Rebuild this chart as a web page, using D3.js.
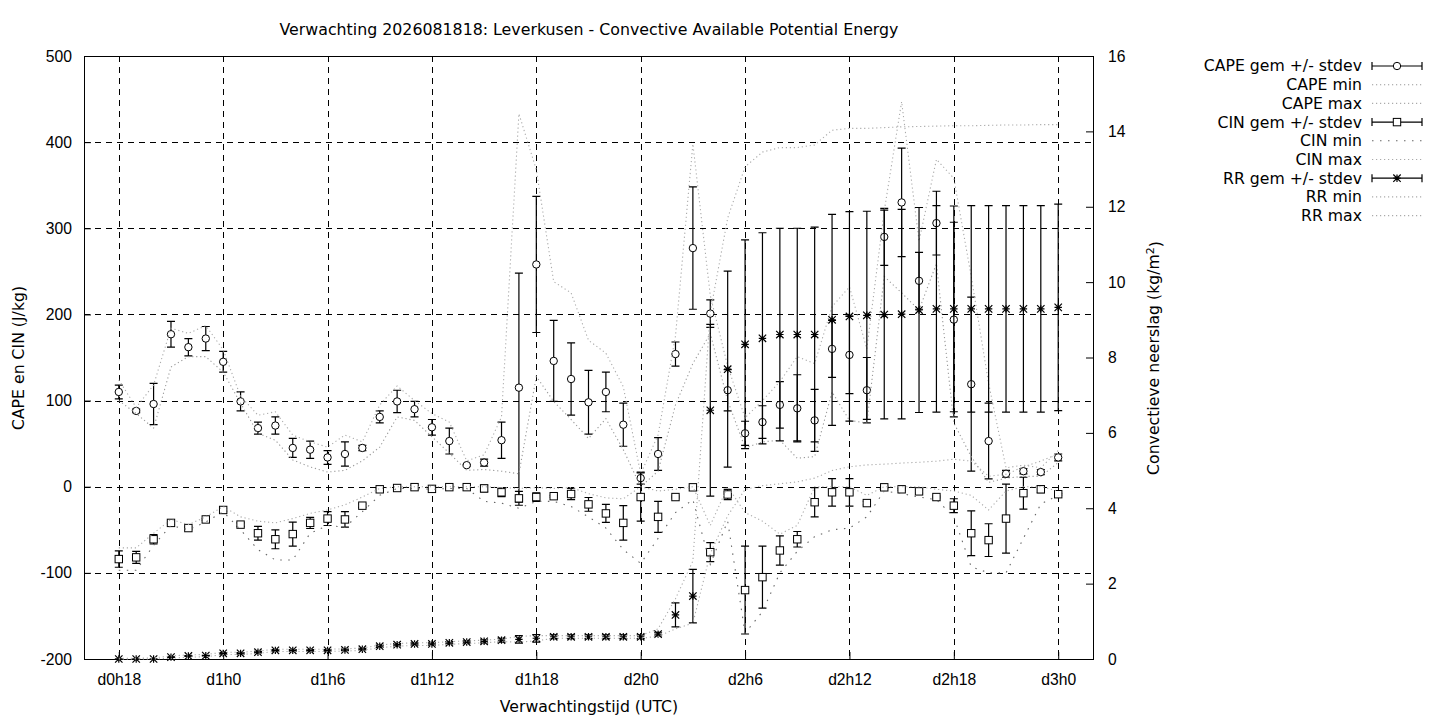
<!DOCTYPE html>
<html>
<head>
<meta charset="utf-8">
<script src="https://cdn.jsdelivr.net/npm/d3@7"></script>
<style>
  body { margin: 0; background: #fff; }
  svg { display: block; font-family: "DejaVu Sans", sans-serif; }
  .tick text { font-size: 15.7px; fill: #000; }
</style>
</head>
<body>
<svg id="chart" width="1440" height="720"></svg>
<script>
// forecast hours (d0h18 .. d3h0)
const hours = [18, 19, 20, 21, 22, 23, 24, 25, 26, 27, 28, 29, 30, 31, 32, 33, 34, 35, 36,
    37, 38, 39, 40, 41, 42, 43, 44, 45, 46, 47, 48, 49, 50, 51, 52, 53, 54, 55, 56,
    57, 58, 59, 60, 61, 62, 63, 64, 65, 66, 67, 68, 69, 70, 71, 72];

const xTickHours  = [18, 24, 30, 36, 42, 48, 54, 60, 66, 72];
const xTickLabels = ["d0h18", "d1h0", "d1h6", "d1h12", "d1h18", "d2h0", "d2h6", "d2h12", "d2h18", "d3h0"];
const yTicks      = [-200, -100, 0, 100, 200, 300, 400, 500];
const y2Ticks     = [0, 2, 4, 6, 8, 10, 12, 14, 16];

// CAPE (J/kg)
const capeMean = [110, 88, 96, 177, 162, 172, 145, 99, 68, 71, 45, 43, 34, 38, 45, 81, 99, 90, 69,
    53, 25, 28, 54, 115, 258, 146, 125, 98, 110, 72, 10, 38, 154, 277, 201, 112, 62, 75, 95,
    91, 77, 160, 153, 112, 290, 330, 239, 306, 194, 119, 53, 15, 18, 17, 34];
const capeSd = [8, 2, 24, 15, 10, 14, 12, 11, 7, 10, 11, 10, 8, 14, 3, 7, 13, 9, 9,
    15, 1, 4, 21, 133, 79, 47, 42, 37, 23, 25, 7, 19, 14, 71, 16, 24, 14, 19, 27,
    39, 36, 33, 45, 38, 33, 63, 33, 37, 113, 101, 44, 4, 3, 3, 4];
const capeMin = [100, 85, 68, 139, 151, 151, 133, 97, 62, 54, 31, 23, 17, 19, 30, 46, 81, 77, 58,
    39, 19, 20, 18, 15, 128, 99, 78, 56, 79, 43, 0, 18, 95, 143, 178, 100, 45, 52, 54,
    33, 35, 110, 77, 74, 244, 225, 205, 259, 74, 35, 5, 10, 12, 12, 28];
const capeMax = [124, 92, 118, 184, 178, 187, 159, 105, 83, 87, 60, 52, 46, 60, 52, 95, 117, 100, 85,
    75, 30, 37, 81, 433, 368, 238, 225, 170, 155, 116, 15, 60, 175, 398, 222, 140, 80, 100, 122,
    151, 143, 209, 232, 160, 320, 447, 285, 380, 358, 244, 120, 22, 25, 22, 42];

// CIN (J/kg)
const cinMean = [-84, -82, -61, -42, -48, -38, -27, -44, -54, -61, -55, -42, -37, -38, -22, -3, -1.5, -0.5, -2.5,
    -0.5, -0.5, -2, -6.5, -13.5, -12, -11, -8.5, -20.5, -31, -42, -12, -35, -12, -0.7, -76, -9, -120, -105, -74,
    -61, -18, -6.5, -6.5, -19, -0.7, -3, -5.4, -12, -22, -54, -62, -37, -7.5, -3, -8.7];
const cinSd = [9.5, 7, 5.5, 2, 1, 1, 1.5, 2, 8, 11, 14, 6.5, 8, 9, 2, 1, 1, 1, 1,
    1, 1, 4, 5, 8, 5, 1, 6.5, 8, 10.5, 20, 28, 18, 1, 1, 11, 6, 51, 36, 17,
    9, 17, 16, 16, 2, 1, 1, 2, 1, 8, 26, 19, 40, 18.5, 4, 1];
const cinMin = [-97, -97, -68, -45, -50, -41, -29, -50, -73, -85, -85, -54, -45, -47, -29, -10, -2, -2, -3,
    -2, -2, -17, -19, -25, -17, -17, -23, -35, -48, -73, -89, -60, -30, -15, -90, -40, -170, -145, -100,
    -75, -58, -50, -48, -35, -5, -8, -12, -15, -35, -93, -100, -100, -60, -20, -10];
const cinMax = [-71, -71, -54, -38, -44, -35, -23, -35, -40, -42, -37, -31, -27, -21, -12, -2, 0, 0, 0,
    0, 0, 0, -1, -2, -1, -2, -1, -8, -13, -14, 0, -5, -3, 0, -45, 0, -30, -40, -55,
    -45, 0, 0, 0, -10, 0, 0, 0, -3, -5, -10, -27, -5, 0, 0, -5];

// convective precipitation (kg/m2)
const rrMean = [0, 0, 0, 0.05, 0.08, 0.09, 0.15, 0.15, 0.18, 0.23, 0.23, 0.23, 0.23, 0.24, 0.26, 0.34, 0.38, 0.40, 0.40,
    0.43, 0.45, 0.47, 0.50, 0.52, 0.55, 0.59, 0.59, 0.59, 0.59, 0.59, 0.59, 0.66, 1.17, 1.67, 6.6, 7.69, 8.35, 8.51, 8.61,
    8.61, 8.61, 9.0, 9.09, 9.12, 9.14, 9.15, 9.26, 9.29, 9.29, 9.29, 9.29, 9.29, 9.29, 9.29, 9.33];
const rrSd = [0, 0, 0, 0.01, 0.01, 0.01, 0.02, 0.02, 0.02, 0.02, 0.02, 0.02, 0.02, 0.02, 0.02, 0.03, 0.03, 0.03, 0.03,
    0.03, 0.03, 0.04, 0.05, 0.1, 0.1, 0.05, 0.05, 0.05, 0.05, 0.05, 0.05, 0.05, 0.32, 0.71, 2.28, 2.6, 2.77, 2.8, 2.82,
    2.82, 2.85, 2.8, 2.78, 2.76, 2.77, 2.78, 2.72, 2.74, 2.73, 2.74, 2.74, 2.74, 2.74, 2.74, 2.74];
const rrMin = [0, 0, 0, 0.02, 0.05, 0.06, 0.12, 0.12, 0.15, 0.2, 0.2, 0.2, 0.2, 0.21, 0.23, 0.3, 0.34, 0.36, 0.36,
    0.39, 0.41, 0.43, 0.46, 0.45, 0.48, 0.55, 0.55, 0.55, 0.55, 0.55, 0.55, 0.6, 0.8, 0.95, 2.8, 3.8, 4.5, 4.6, 4.65,
    4.7, 4.8, 5.0, 5.1, 5.15, 5.17, 5.2, 5.22, 5.25, 5.3, 5.25, 4.85, 4.9, 5.1, 5.25, 5.45];
const rrMax = [0.02, 0.02, 0.03, 0.08, 0.11, 0.12, 0.18, 0.18, 0.21, 0.26, 0.26, 0.26, 0.26, 0.27, 0.29, 0.37, 0.41, 0.43, 0.43,
    0.46, 0.48, 0.5, 0.53, 0.6, 0.62, 0.62, 0.62, 0.62, 0.62, 0.62, 0.62, 0.8, 1.6, 2.6, 9.2, 11.7, 13.06, 13.45, 13.57,
    13.57, 13.64, 14.03, 14.08, 14.08, 14.1, 14.12, 14.13, 14.14, 14.15, 14.15, 14.16, 14.17, 14.17, 14.18, 14.18];

const svg = d3.select("#chart");
const plotLeft = 84, plotRight = 1093, plotTop = 56, plotBottom = 659;

const x  = d3.scaleLinear().domain([16, 74]).range([plotLeft, plotRight]);
const y  = d3.scaleLinear().domain([-200, 500]).range([plotBottom, plotTop]);
const y2 = d3.scaleLinear().domain([0, 16]).range([plotBottom, plotTop]);

// gnuplot style labels: plain hyphen as minus sign
const plainNumber = d => String(d);

// grid
let grid = svg.append("g")
              .attr("stroke", "#000")
              .attr("stroke-width", 1)
              .attr("stroke-dasharray", "6,5");
grid.selectAll("line.gx")
    .data(xTickHours)
    .enter().append("line")
    .attr("x1", d => Math.round(x(d)) + 0.5).attr("x2", d => Math.round(x(d)) + 0.5)
    .attr("y1", plotTop).attr("y2", plotBottom);
grid.selectAll("line.gy")
    .data(yTicks.filter(d => d > -200 && d < 500))
    .enter().append("line")
    .attr("y1", d => Math.round(y(d)) + 0.5).attr("y2", d => Math.round(y(d)) + 0.5)
    .attr("x1", plotLeft).attr("x2", plotRight);

// axes
svg.append("g")
   .attr("transform", "translate(" + plotLeft + ",0)")
   .call(d3.axisLeft(y).tickValues(yTicks).tickFormat(plainNumber)
           .tickSize(-7).tickSizeOuter(0).tickPadding(12))
   .call(g => g.select(".domain").remove());

svg.append("g")
   .attr("transform", "translate(" + plotRight + ",0)")
   .call(d3.axisRight(y2).tickValues(y2Ticks).tickFormat(plainNumber)
           .tickSize(-7).tickSizeOuter(0).tickPadding(15))
   .call(g => g.select(".domain").remove());

svg.append("g")
   .attr("transform", "translate(0," + plotBottom + ")")
   .call(d3.axisBottom(x).tickValues(xTickHours)
           .tickFormat((d, i) => xTickLabels[i])
           .tickSize(-7).tickSizeOuter(0).tickPadding(15))
   .call(g => g.select(".domain").remove());

svg.selectAll(".tick line").attr("stroke", "#000");

// border
svg.append("rect")
   .attr("x", plotLeft + 0.5).attr("y", plotTop + 0.5)
   .attr("width", plotRight - plotLeft).attr("height", plotBottom - plotTop)
   .attr("fill", "none").attr("stroke", "#000").attr("stroke-width", 1);

// symbols
function drawSymbol(g, type, cx, cy) {
    if (type === "circle") {
        g.append("circle").attr("cx", cx).attr("cy", cy).attr("r", 3.7)
         .attr("fill", "#fff").attr("stroke", "#000").attr("stroke-width", 1);
    } else if (type === "square") {
        g.append("rect").attr("x", cx - 3.7).attr("y", cy - 3.7)
         .attr("width", 7.4).attr("height", 7.4)
         .attr("fill", "#fff").attr("stroke", "#000").attr("stroke-width", 1);
    } else {
        let s = 3.7;
        g.append("path")
         .attr("d", "M" + (cx - s) + "," + cy + "H" + (cx + s) +
                    "M" + cx + "," + (cy - s) + "V" + (cy + s) +
                    "M" + (cx - s) + "," + (cy - s) + "L" + (cx + s) + "," + (cy + s) +
                    "M" + (cx - s) + "," + (cy + s) + "L" + (cx + s) + "," + (cy - s))
         .attr("stroke", "#000").attr("stroke-width", 1.2).attr("fill", "none");
    }
}

function errorBars(mean, sd, scale, type) {
    let g = svg.append("g");
    hours.forEach(function (h, i) {
        let cx = x(h);
        let y0 = scale(mean[i] - sd[i]), y1 = scale(mean[i] + sd[i]);
        g.append("path")
         .attr("d", "M" + cx + "," + y0 + "V" + y1 +
                    "M" + (cx - 4) + "," + y0 + "H" + (cx + 4) +
                    "M" + (cx - 4) + "," + y1 + "H" + (cx + 4))
         .attr("stroke", "#000").attr("stroke-width", 1.2).attr("fill", "none");
        drawSymbol(g, type, cx, scale(mean[i]));
    });
}

function dotted(values, scale, color, dash) {
    let line = d3.line()
                 .x((d, i) => x(hours[i]))
                 .y(d => scale(d));
    svg.append("path")
       .attr("d", line(values))
       .attr("fill", "none")
       .attr("stroke", color)
       .attr("stroke-width", 1.1)
       .attr("stroke-dasharray", dash);
}

const lightDot = "1.2,2.8";
const sparseDot = "1.5,6.5";

errorBars(capeMean, capeSd, y, "circle");
dotted(capeMin, y, "#999", lightDot);
dotted(capeMax, y, "#aaa", lightDot);
errorBars(cinMean, cinSd, y, "square");
dotted(cinMin, y, "#666", sparseDot);
dotted(cinMax, y, "#aaa", lightDot);
errorBars(rrMean, rrSd, y2, "asterisk");
dotted(rrMin, y2, "#aaa", lightDot);
dotted(rrMax, y2, "#aaa", lightDot);

// legend
const legendLabels = ["CAPE gem +/- stdev", "CAPE min", "CAPE max", "CIN gem +/- stdev", "CIN min",
    "CIN max", "RR gem +/- stdev", "RR min", "RR max"];
const legendKinds = ["circle", "#999", "#aaa", "square", "#666", "#aaa", "asterisk", "#aaa", "#aaa"];

let legend = svg.append("g");
legendLabels.forEach(function (label, i) {
    let ly = 66 + i * 18.7;
    legend.append("text")
          .attr("x", 1362).attr("y", ly)
          .attr("dy", "0.35em")
          .attr("text-anchor", "end")
          .style("font-size", "15.7px")
          .text(label);
    let kind = legendKinds[i];
    if (kind === "circle" || kind === "square" || kind === "asterisk") {
        legend.append("path")
              .attr("d", "M1372," + ly + "H1422M1372," + (ly - 4) + "V" + (ly + 4) +
                         "M1422," + (ly - 4) + "V" + (ly + 4))
              .attr("stroke", "#000").attr("stroke-width", 1.2);
        drawSymbol(legend, kind, 1397, ly);
    } else {
        legend.append("path")
              .attr("d", "M1372," + ly + "H1422")
              .attr("stroke", kind).attr("stroke-width", 1.1)
              .attr("stroke-dasharray", kind === "#666" ? sparseDot : lightDot);
    }
});

// titles
svg.append("text")
   .attr("x", 589).attr("y", 29).attr("dy", "0.35em")
   .attr("text-anchor", "middle")
   .style("font-size", "15.8px")
   .text("Verwachting 2026081818: Leverkusen - Convective Available Potential Energy");

svg.append("text")
   .attr("x", 589).attr("y", 707).attr("dy", "0.35em")
   .attr("text-anchor", "middle")
   .style("font-size", "15.7px")
   .text("Verwachtingstijd (UTC)");

svg.append("text")
   .attr("transform", "translate(18,358) rotate(-90)")
   .attr("dy", "0.35em")
   .attr("text-anchor", "middle")
   .style("font-size", "15.7px")
   .text("CAPE en CIN (J/kg)");

let rl = svg.append("text")
            .attr("transform", "translate(1153,358) rotate(-90)")
            .attr("dy", "0.35em")
            .attr("text-anchor", "middle")
            .style("font-size", "15.7px");
rl.append("tspan").text("Convectieve neerslag (kg/m");
rl.append("tspan").attr("dy", "-0.45em").style("font-size", "11px").text("2");
rl.append("tspan").attr("dy", "0.45em").text(")");
</script>
</body>
</html>
